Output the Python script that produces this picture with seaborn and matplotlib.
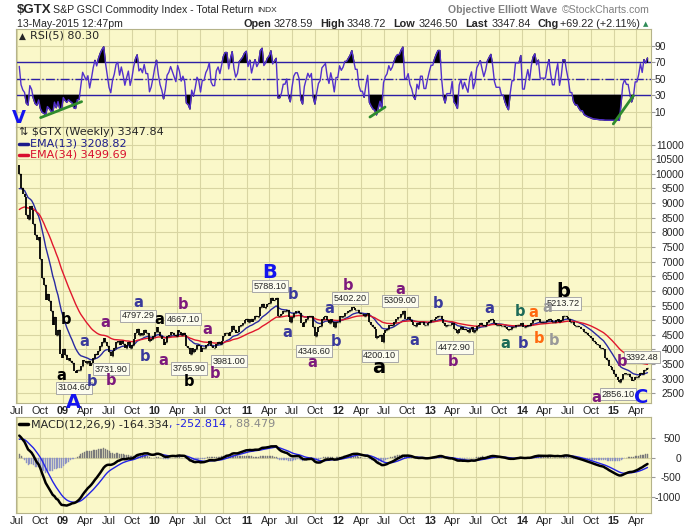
import numpy as np
import pandas as pd
import seaborn as sns
import matplotlib.pyplot as plt
import matplotlib.dates as mdates
from matplotlib.lines import Line2D

# Weekly closes of $GTX (Friday of each week)
# weeks before the window: only used to warm up the EMAs / RSI / MACD
close_pre = [7600, 7500, 7300, 7500, 7600, 7750, 7950, 8200, 8450, 8600, 8650, 8050, 8250, 8300,
             8550, 8850, 8700, 8650, 9100, 9250, 9550, 9300, 9700, 9650, 9700, 10050, 10300]
close_2008 = [10000, 9500, 9300, 9200, 8600, 8450, 8900, 8750, 8300, 7900, 7750, 7850, 7100,
              6450, 6200, 5700, 5900, 5650, 5300, 4850, 5100, 4500, 4650, 3850, 3700]
close_2009 = [4000, 3800, 3650, 3700, 3600, 3550, 3250, 3200, 3300, 3300, 3450, 3650, 3600,
              3550, 3600, 3450, 3550, 3700, 3850, 3800, 3950, 4100, 4250, 4400, 4250, 4100,
              3900, 3780, 3950, 4050, 4250, 4300, 4150, 4300, 4200, 4050, 4150, 4250, 4050,
              4150, 4350, 4550, 4700, 4500, 4550, 4500, 4650, 4550, 4550, 4300, 4350, 4450]
close_2010 = [4600, 4750, 4600, 4450, 4350, 4150, 4250, 4450, 4500, 4600, 4550, 4500, 4450,
              4650, 4600, 4500, 4550, 4500, 4100, 4050, 3850, 4050, 3900, 4000, 4150, 4100,
              3900, 4050, 4050, 4150, 4200, 4300, 4100, 4050, 4050, 4200, 4250, 4200, 4300,
              4450, 4550, 4550, 4450, 4600, 4800, 4650, 4550, 4600, 4800, 4850, 4900, 5000, 5050]
close_2011 = [4950, 5050, 4950, 5050, 5150, 5100, 5150, 5450, 5550, 5400, 5450, 5550, 5600,
              5750, 5650, 5700, 5750, 5150, 5150, 5200, 5300, 5300, 5350, 5100, 4950, 5100,
              5250, 5300, 5300, 5250, 4900, 4750, 4950, 5050, 5150, 5100, 5150, 4750, 4450,
              4600, 4750, 4800, 5050, 5100, 5150, 5000, 4900, 5050, 4950, 4750, 4950, 4950]
close_2012 = [5150, 5100, 5150, 5250, 5250, 5300, 5350, 5450, 5400, 5350, 5350, 5250, 5200,
              5200, 5150, 5200, 5250, 4950, 4850, 4750, 4700, 4400, 4450, 4500, 4250, 4550,
              4650, 4700, 4850, 4800, 4850, 4950, 5050, 5100, 5100, 5200, 5300, 5050, 5050,
              5100, 5000, 4950, 4850, 4800, 4900, 4850, 4950, 4950, 4850, 4850, 4900, 4950]
close_2013 = [5000, 5000, 5050, 5100, 5150, 5150, 5050, 4900, 4800, 4850, 4850, 4850, 4900,
              4700, 4650, 4550, 4700, 4750, 4650, 4700, 4650, 4600, 4700, 4750, 4600, 4650,
              4800, 4850, 4900, 4850, 4800, 4850, 4950, 5000, 5050, 5000, 4900, 4850, 4850,
              4850, 4800, 4800, 4750, 4700, 4650, 4700, 4750, 4750, 4850, 4850, 4850, 4900]
close_2014 = [4750, 4750, 4800, 4850, 4800, 4900, 5000, 5050, 5000, 5050, 4950, 4950, 4950,
              4950, 5000, 5050, 5000, 4950, 4950, 5000, 5050, 4950, 5000, 5150, 5150, 5100,
              5050, 4950, 4950, 4850, 4800, 4800, 4750, 4700, 4700, 4600, 4550, 4500, 4450,
              4400, 4300, 4250, 4200, 4150, 4050, 4050, 4000, 3700, 3650, 3450, 3400, 3300]
close_2015 = [3150, 3050, 2950, 2900, 3000, 3150, 3200, 3150, 3150, 3050, 2920, 2950, 3050,
              3050, 3100, 3200, 3150, 3300, 3280, 3348]

block_starts = ['2008-01-04', '2008-07-11', '2009-01-02', '2010-01-01', '2011-01-07',
                '2012-01-06', '2013-01-04', '2014-01-03', '2015-01-02']
blocks = [close_pre, close_2008, close_2009, close_2010, close_2011,
          close_2012, close_2013, close_2014, close_2015]

# Elliott wave letters: (text, date, level, colour key, size)
wave_labels = [
    ('b', '2009-01-12', 5026, 'k', 10.5), ('a', '2008-12-24', 3101, 'k', 10.5),
    ('A', '2009-02-13', 2179, 'B', 14), ('a', '2009-03-26', 4285, 'n', 10.5),
    ('b', '2009-04-25', 2896, 'n', 10.5), ('a', '2009-06-18', 4910, 'p', 10.5),
    ('b', '2009-07-11', 2954, 'p', 10.5), ('a', '2009-10-27', 5593, 'n', 10.5),
    ('b', '2009-11-24', 3749, 'n', 10.5), ('a', '2010-01-19', 5036, 'k', 10.5),
    ('a', '2010-02-04', 3613, 'p', 10.5), ('b', '2010-04-22', 5538, 'p', 10.5),
    ('b', '2010-05-18', 2896, 'k', 10.5), ('a', '2010-07-29', 4685, 'p', 10.5),
    ('b', '2010-08-29', 3183, 'p', 10.5), ('B', '2011-04-01', 6617, 'B', 14),
    ('b', '2011-07-06', 5880, 'n', 10.5), ('a', '2011-06-12', 4569, 'n', 10.5),
    ('a', '2011-11-28', 5402, 'n', 10.5), ('b', '2011-12-22', 4262, 'n', 10.5),
    ('a', '2011-09-19', 3558, 'p', 10.5), ('b', '2012-02-07', 6197, 'p', 10.5),
    ('a', '2012-09-02', 6050, 'p', 10.5), ('a', '2012-06-11', 3388, 'k', 14),
    ('a', '2012-10-29', 4296, 'n', 10.5), ('b', '2013-02-02', 5572, 'n', 10.5),
    ('b', '2013-03-31', 3579, 'p', 10.5), ('a', '2013-08-24', 5402, 'n', 10.5),
    ('b', '2013-12-23', 5286, 't', 10.5), ('a', '2013-10-25', 4207, 't', 10.5),
    ('b', '2014-01-05', 4207, 'n', 10.5), ('a', '2014-02-14', 5252, 'o', 10.5),
    ('b', '2014-03-08', 4378, 'o', 10.5), ('a', '2014-04-11', 5422, 'g', 10.5),
    ('b', '2014-05-09', 4320, 'g', 10.5), ('b', '2014-06-14', 5990, 'k', 14),
    ('b', '2015-02-01', 3603, 'p', 10.5), ('a', '2014-10-24', 2363, 'p', 10.5),
    ('C', '2015-04-18', 2363, 'B', 14),
]
wave_colors = {'k': 'black', 'n': '#3a3a9c', 'p': '#7d1a7d', 't': '#1d6a58',
               'o': '#ff6a10', 'g': '#999999', 'B': '#1414ee'}

# price call-out boxes: (text, date, level)
price_boxes = [
    ('3104.60', '2009-02-13', 2691), ('3731.90', '2009-07-11', 3330),
    ('4797.29', '2009-10-26', 5149), ('4667.10', '2010-04-23', 5036),
    ('3765.90', '2010-05-17', 3353), ('3981.00', '2010-10-24', 3603),
    ('5788.10', '2011-04-04', 6163), ('4346.60', '2011-09-26', 3944),
    ('5402.20', '2012-02-16', 5753), ('4200.10', '2012-06-14', 3784),
    ('5309.00', '2012-09-02', 5661), ('4472.90', '2013-04-07', 4070),
    ('5213.72', '2014-06-14', 5572), ('2856.10', '2015-01-18', 2466),
    ('3392.48', '2015-04-22', 3729),
]

# green RSI divergence lines
rsi_lines = [(('2008-10-04', 3.3), ('2009-03-16', 22.5)),
             (('2012-05-06', 4.0), ('2012-07-05', 16.0)),
             (('2014-12-30', -4.3), ('2015-03-20', 29.8))]

sns.set_style('white')
plt.rcParams['font.family'] = ['Liberation Sans', 'DejaVu Sans']

# build the weekly table and the indicators
frames = []
for start, vals in zip(block_starts, blocks):
    frames.append(pd.DataFrame({'date': pd.date_range(start, periods=len(vals), freq='7D'),
                                'close': vals}))
df = pd.concat(frames, ignore_index=True)
df['close'] = df['close'].astype(float)
df['open'] = df['close'].shift(1)
df['ema13'] = df['close'].ewm(span=13, adjust=False).mean()
df['ema34'] = df['close'].ewm(span=34, adjust=False).mean()
delta = df['close'].diff()
up = delta.clip(lower=0).ewm(alpha=1 / 5, adjust=False).mean()
down = (-delta.clip(upper=0)).ewm(alpha=1 / 5, adjust=False).mean()
df['rsi'] = 100 - 100 / (1 + up / down)
df['macd'] = df['close'].ewm(span=12, adjust=False).mean() - df['close'].ewm(span=26, adjust=False).mean()
df['signal'] = df['macd'].ewm(span=9, adjust=False).mean()
df['hist'] = df['macd'] - df['signal']
df = df[df['date'] >= '2008-07-11'].reset_index(drop=True)
df['x'] = mdates.date2num(df['date'])


def dnum(s):
    return mdates.date2num(pd.Timestamp(s))


W, H = 700, 530
fig = plt.figure(figsize=(7, 5.3), dpi=100)


def panel(top, bottom):
    return fig.add_axes([16 / W, 1 - bottom / H, 635 / W, (bottom - top) / H])


def ftext(px, py, s, **kw):
    fig.text(px / W, 1 - py / H, s, va='center', **kw)


ax_rsi = panel(29, 127)
ax = panel(127, 402.5)
ax_macd = panel(417, 513)

bg = '#faf8c9'
grid_col = '#d8d5a2'
rsi_col = '#5230cc'
lvl_col = '#2c1fa6'

# --- RSI panel ---
sns.lineplot(x=df['x'], y=df['rsi'], ax=ax_rsi, color=rsi_col, lw=1, zorder=4)
ax_rsi.fill_between(df['x'], df['rsi'], 70, where=df['rsi'] >= 70, interpolate=True, color='black', zorder=3)
ax_rsi.fill_between(df['x'], df['rsi'], 30, where=df['rsi'] <= 30, interpolate=True, color='black', zorder=3)
ax_rsi.axhline(70, color=lvl_col, lw=1, zorder=2)
ax_rsi.axhline(30, color=lvl_col, lw=1, zorder=2)
ax_rsi.axhline(50, color=lvl_col, lw=1, ls='-.', zorder=2)
for (d0, v0), (d1, v1) in rsi_lines:
    ax_rsi.plot([dnum(d0), dnum(d1)], [v0, v1], color='#2e8b2e', lw=2, zorder=5, clip_on=False)
ax_rsi.text(dnum('2008-07-10'), 3, 'V', color='#1414ee', fontsize=13, fontweight='bold',
            ha='center', va='center', family='DejaVu Sans', clip_on=False, zorder=6)
ax_rsi.set_ylim(-8, 110)
ax_rsi.set_yticks([10, 30, 50, 70, 90])

# --- price panel ---
lo = df[['open', 'close']].min(axis=1)
hi = df[['open', 'close']].max(axis=1)
ax.vlines(df['x'], lo, hi, color='black', lw=1.3, zorder=4)
ax.hlines(df['open'], df['x'] - 2.5, df['x'], color='black', lw=1, zorder=4)
ax.hlines(df['close'], df['x'], df['x'] + 2.5, color='black', lw=1, zorder=4)
sns.lineplot(x=df['x'], y=df['ema13'], ax=ax, color='#2a2aa0', lw=1, zorder=3)
sns.lineplot(x=df['x'], y=df['ema34'], ax=ax, color='#e0182e', lw=1, zorder=3)
ax.set_ylim(2186, 11601)
ax.set_yticks(np.arange(2500, 11001, 500))

for txt, d, v in price_boxes:
    ax.text(dnum(d), v, txt, ha='center', va='center', fontsize=6.6, zorder=7, clip_on=False,
            bbox=dict(boxstyle='square,pad=0.18', fc='#fcfcee', ec='#a8a8a8', lw=0.7))
for txt, d, v, c, s in wave_labels:
    ax.text(dnum(d), v, txt, ha='center', va='center', fontsize=s, fontweight='bold',
            color=wave_colors[c], family='DejaVu Sans', zorder=8, clip_on=False)

# --- MACD panel ---
hist_cols = np.where(df['hist'] >= 0, '#7a7a7a', '#8d93c4')
ax_macd.bar(df['x'], df['hist'], width=4, color=hist_cols, edgecolor=hist_cols, lw=0.3, zorder=2)
sns.lineplot(x=df['x'], y=df['signal'], ax=ax_macd, color='#2323e6', lw=1, zorder=3)
sns.lineplot(x=df['x'], y=df['macd'], ax=ax_macd, color='black', lw=1.8, zorder=4)
ax_macd.set_ylim(-1400, 1030)
ax_macd.set_yticks([500, 0, -500, -1000])
ax_macd.set_yticklabels(['500', '0', '-500', '-1000'])

# --- shared axis styling ---
ticks = pd.date_range('2008-07-01', '2015-04-01', freq='QS')
tick_x = mdates.date2num(ticks)
tick_lab = [f'{t.year % 100:02d}' if t.month == 1 else t.strftime('%b') for t in ticks]
pads = {ax_rsi: 7.9, ax: 20.9, ax_macd: 18.7}
for a in (ax_rsi, ax, ax_macd):
    a.set_facecolor(bg)
    a.set_xlim(dnum('2008-06-28'), dnum('2015-05-29'))
    a.set_xticks(tick_x)
    a.set_xticklabels(tick_lab)
    a.grid(True, color=grid_col, lw=0.8)
    a.set_axisbelow(True)
    a.set_xlabel('')
    a.set_ylabel('')
    for s in a.spines.values():
        s.set_color('#b5b38a')
        s.set_linewidth(0.8)
    a.yaxis.tick_right()
    a.tick_params(axis='x', length=0, labelsize=7.8, pad=2.3)
    a.tick_params(axis='y', length=3, color='#999999', labelsize=7.4, pad=pads[a])
    for lab in a.get_yticklabels():
        lab.set_horizontalalignment('right')
    for lab in a.get_xticklabels():
        if lab.get_text().isdigit():
            lab.set_fontweight('bold')
ax_rsi.tick_params(axis='x', labelbottom=False)

# --- header ---
ftext(17, 10, '$GTX', fontsize=9.5, fontweight='bold')
ftext(53, 10, 'S&P GSCI Commodity Index - Total Return', fontsize=7.6)
ftext(257, 10.5, 'INDX', fontsize=6)
ftext(557, 10, 'Objective Elliott Wave', fontsize=7.6, fontweight='bold', color='#808080', ha='right')
ftext(650, 10, '\u00a9StockCharts.com', fontsize=7.6, color='#808080', ha='right')
ftext(17, 24, '13-May-2015 12:47pm', fontsize=7.6)
for px, s, bold in [(243, 'Open', True), (274, '3278.59', False), (320, 'High', True),
                    (347, '3348.72', False), (393, 'Low', True), (419, '3246.50', False),
                    (465, 'Last', True), (492, '3347.84', False), (537, 'Chg', True),
                    (560, '+69.22 (+2.11%)', False)]:
    ftext(px, 24, s, fontsize=7.8, fontweight='bold' if bold else 'normal')
ftext(643, 24, '\u25b2', fontsize=5, color='#2e8b57', family=['DejaVu Sans'])

# --- panel legends ---
leg = dict(fontsize=8, family=['DejaVu Sans'])
ftext(19, 36, '\u25b2', fontsize=6.5, family=['DejaVu Sans'])
ftext(30, 36, 'RSI(5) 80.30', **leg)
ftext(19, 132.3, '\u21c5 $GTX (Weekly) 3347.84', **leg)
fig.add_artist(Line2D([19 / W, 28 / W], [1 - 143.5 / H] * 2, color='#1c1c8c', lw=2.5))
ftext(30, 143.5, 'EMA(13) 3208.82', color='#1c1c8c', **leg)
fig.add_artist(Line2D([19 / W, 28 / W], [1 - 154.5 / H] * 2, color='#d8102e', lw=2.5))
ftext(30, 154.5, 'EMA(34) 3499.69', color='#d8102e', **leg)
fig.add_artist(Line2D([19 / W, 28 / W], [1 - 424.3 / H] * 2, color='black', lw=2.5))
ftext(31, 424.3, 'MACD(12,26,9) -164.334', **leg)
ftext(169, 424.3, ', -252.814', color='#2323e6', **leg)
ftext(229, 424.3, ', 88.479', color='#8a8a8a', **leg)

fig.savefig('out.png', dpi=100, facecolor='white')
